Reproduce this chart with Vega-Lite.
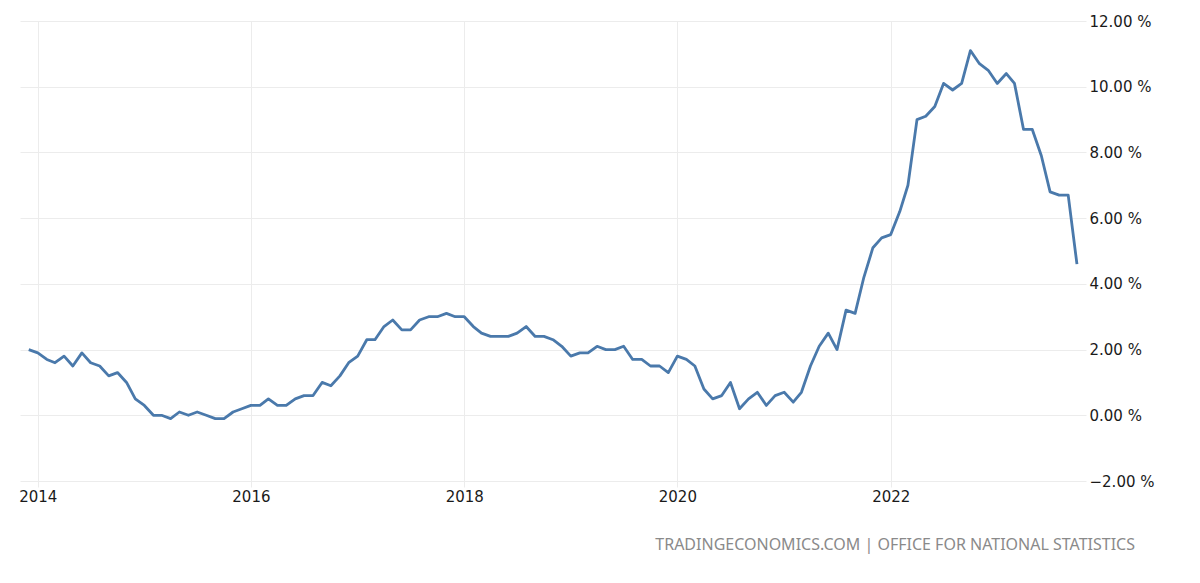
{
  "$schema": "https://vega.github.io/schema/vega-lite/v6.json",
  "width": 1066,
  "height": 460,
  "autosize": {"type": "none"},
  "padding": {"left": 20, "top": 21, "right": 114, "bottom": 102},
  "background": "white",
  "config": {"view": {"stroke": null}},
  "title": {
    "text": "TRADINGECONOMICS.COM | OFFICE FOR NATIONAL STATISTICS",
    "orient": "bottom",
    "anchor": "end",
    "dx": -19,
    "offset": 33,
    "font": "Noto Sans",
    "fontSize": 16,
    "fontWeight": "normal",
    "color": "#8a8a8a"
  },
  "data": {
    "values": [
      {"date": "2013-12-01", "rate": 2.0},
      {"date": "2014-01-01", "rate": 1.9},
      {"date": "2014-02-01", "rate": 1.7},
      {"date": "2014-03-01", "rate": 1.6},
      {"date": "2014-04-01", "rate": 1.8},
      {"date": "2014-05-01", "rate": 1.5},
      {"date": "2014-06-01", "rate": 1.9},
      {"date": "2014-07-01", "rate": 1.6},
      {"date": "2014-08-01", "rate": 1.5},
      {"date": "2014-09-01", "rate": 1.2},
      {"date": "2014-10-01", "rate": 1.3},
      {"date": "2014-11-01", "rate": 1.0},
      {"date": "2014-12-01", "rate": 0.5},
      {"date": "2015-01-01", "rate": 0.3},
      {"date": "2015-02-01", "rate": 0.0},
      {"date": "2015-03-01", "rate": 0.0},
      {"date": "2015-04-01", "rate": -0.1},
      {"date": "2015-05-01", "rate": 0.1},
      {"date": "2015-06-01", "rate": 0.0},
      {"date": "2015-07-01", "rate": 0.1},
      {"date": "2015-08-01", "rate": 0.0},
      {"date": "2015-09-01", "rate": -0.1},
      {"date": "2015-10-01", "rate": -0.1},
      {"date": "2015-11-01", "rate": 0.1},
      {"date": "2015-12-01", "rate": 0.2},
      {"date": "2016-01-01", "rate": 0.3},
      {"date": "2016-02-01", "rate": 0.3},
      {"date": "2016-03-01", "rate": 0.5},
      {"date": "2016-04-01", "rate": 0.3},
      {"date": "2016-05-01", "rate": 0.3},
      {"date": "2016-06-01", "rate": 0.5},
      {"date": "2016-07-01", "rate": 0.6},
      {"date": "2016-08-01", "rate": 0.6},
      {"date": "2016-09-01", "rate": 1.0},
      {"date": "2016-10-01", "rate": 0.9},
      {"date": "2016-11-01", "rate": 1.2},
      {"date": "2016-12-01", "rate": 1.6},
      {"date": "2017-01-01", "rate": 1.8},
      {"date": "2017-02-01", "rate": 2.3},
      {"date": "2017-03-01", "rate": 2.3},
      {"date": "2017-04-01", "rate": 2.7},
      {"date": "2017-05-01", "rate": 2.9},
      {"date": "2017-06-01", "rate": 2.6},
      {"date": "2017-07-01", "rate": 2.6},
      {"date": "2017-08-01", "rate": 2.9},
      {"date": "2017-09-01", "rate": 3.0},
      {"date": "2017-10-01", "rate": 3.0},
      {"date": "2017-11-01", "rate": 3.1},
      {"date": "2017-12-01", "rate": 3.0},
      {"date": "2018-01-01", "rate": 3.0},
      {"date": "2018-02-01", "rate": 2.7},
      {"date": "2018-03-01", "rate": 2.5},
      {"date": "2018-04-01", "rate": 2.4},
      {"date": "2018-05-01", "rate": 2.4},
      {"date": "2018-06-01", "rate": 2.4},
      {"date": "2018-07-01", "rate": 2.5},
      {"date": "2018-08-01", "rate": 2.7},
      {"date": "2018-09-01", "rate": 2.4},
      {"date": "2018-10-01", "rate": 2.4},
      {"date": "2018-11-01", "rate": 2.3},
      {"date": "2018-12-01", "rate": 2.1},
      {"date": "2019-01-01", "rate": 1.8},
      {"date": "2019-02-01", "rate": 1.9},
      {"date": "2019-03-01", "rate": 1.9},
      {"date": "2019-04-01", "rate": 2.1},
      {"date": "2019-05-01", "rate": 2.0},
      {"date": "2019-06-01", "rate": 2.0},
      {"date": "2019-07-01", "rate": 2.1},
      {"date": "2019-08-01", "rate": 1.7},
      {"date": "2019-09-01", "rate": 1.7},
      {"date": "2019-10-01", "rate": 1.5},
      {"date": "2019-11-01", "rate": 1.5},
      {"date": "2019-12-01", "rate": 1.3},
      {"date": "2020-01-01", "rate": 1.8},
      {"date": "2020-02-01", "rate": 1.7},
      {"date": "2020-03-01", "rate": 1.5},
      {"date": "2020-04-01", "rate": 0.8},
      {"date": "2020-05-01", "rate": 0.5},
      {"date": "2020-06-01", "rate": 0.6},
      {"date": "2020-07-01", "rate": 1.0},
      {"date": "2020-08-01", "rate": 0.2},
      {"date": "2020-09-01", "rate": 0.5},
      {"date": "2020-10-01", "rate": 0.7},
      {"date": "2020-11-01", "rate": 0.3},
      {"date": "2020-12-01", "rate": 0.6},
      {"date": "2021-01-01", "rate": 0.7},
      {"date": "2021-02-01", "rate": 0.4},
      {"date": "2021-03-01", "rate": 0.7},
      {"date": "2021-04-01", "rate": 1.5},
      {"date": "2021-05-01", "rate": 2.1},
      {"date": "2021-06-01", "rate": 2.5},
      {"date": "2021-07-01", "rate": 2.0},
      {"date": "2021-08-01", "rate": 3.2},
      {"date": "2021-09-01", "rate": 3.1},
      {"date": "2021-10-01", "rate": 4.2},
      {"date": "2021-11-01", "rate": 5.1},
      {"date": "2021-12-01", "rate": 5.4},
      {"date": "2022-01-01", "rate": 5.5},
      {"date": "2022-02-01", "rate": 6.2},
      {"date": "2022-03-01", "rate": 7.0},
      {"date": "2022-04-01", "rate": 9.0},
      {"date": "2022-05-01", "rate": 9.1},
      {"date": "2022-06-01", "rate": 9.4},
      {"date": "2022-07-01", "rate": 10.1},
      {"date": "2022-08-01", "rate": 9.9},
      {"date": "2022-09-01", "rate": 10.1},
      {"date": "2022-10-01", "rate": 11.1},
      {"date": "2022-11-01", "rate": 10.7},
      {"date": "2022-12-01", "rate": 10.5},
      {"date": "2023-01-01", "rate": 10.1},
      {"date": "2023-02-01", "rate": 10.4},
      {"date": "2023-03-01", "rate": 10.1},
      {"date": "2023-04-01", "rate": 8.7},
      {"date": "2023-05-01", "rate": 8.7},
      {"date": "2023-06-01", "rate": 7.9},
      {"date": "2023-07-01", "rate": 6.8},
      {"date": "2023-08-01", "rate": 6.7},
      {"date": "2023-09-01", "rate": 6.7},
      {"date": "2023-10-01", "rate": 4.6}
    ]
  },
  "mark": {"type": "line", "color": "#4a79ab", "strokeWidth": 2.8, "strokeJoin": "round", "clip": false},
  "encoding": {
    "x": {
      "field": "date",
      "type": "temporal",
      "title": null,
      "scale": {"domain": [{"year": 2013, "month": 11, "date": 1}, {"year": 2023, "month": 11, "date": 1}]},
      "axis": {
        "values": [
          {"year": 2014, "month": 1, "date": 1},
          {"year": 2016, "month": 1, "date": 1},
          {"year": 2018, "month": 1, "date": 1},
          {"year": 2020, "month": 1, "date": 1},
          {"year": 2022, "month": 1, "date": 1}
        ],
        "format": "%Y",
        "grid": true,
        "gridColor": "#ececec",
        "gridWidth": 1,
        "domain": false,
        "ticks": true,
        "tickColor": "#ececec",
        "tickSize": 6,
        "labelFont": "DejaVu Sans",
        "labelFontSize": 15,
        "labelColor": "#1a1a1a",
        "labelPadding": 2,
        "labelFlush": false
      }
    },
    "y": {
      "field": "rate",
      "type": "quantitative",
      "title": null,
      "scale": {"domain": [-2, 12], "nice": false, "zero": false},
      "axis": {
        "orient": "right",
        "values": [-2, 0, 2, 4, 6, 8, 10, 12],
        "format": ".2f",
        "labelExpr": "datum.label + ' %'",
        "grid": true,
        "gridColor": "#ececec",
        "gridWidth": 1,
        "domain": false,
        "ticks": false,
        "labelFont": "DejaVu Sans",
        "labelFontSize": 15,
        "labelColor": "#1a1a1a",
        "labelPadding": 3,
        "labelAlign": "left",
        "labelBaseline": "middle"
      }
    }
  }
}
